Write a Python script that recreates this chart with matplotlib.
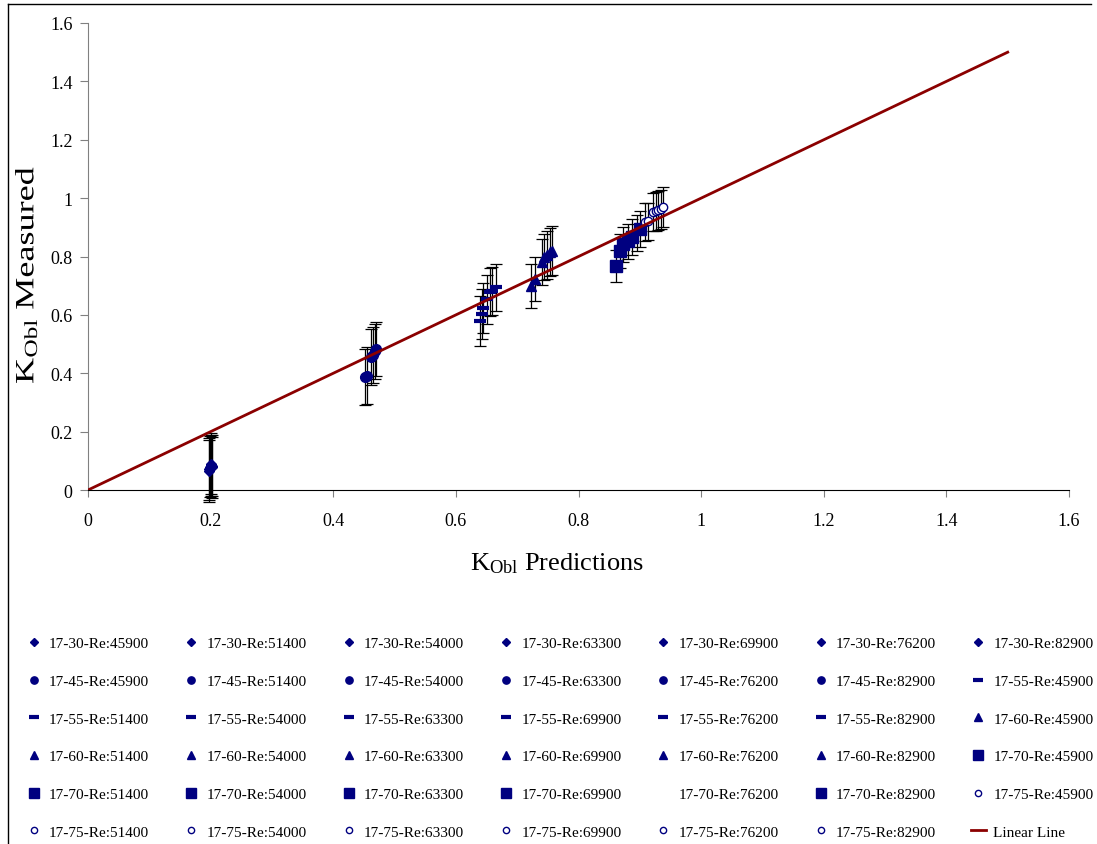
import matplotlib
matplotlib.use("Agg")
import matplotlib.pyplot as plt
from matplotlib.lines import Line2D
from matplotlib.patheffects import AbstractPathEffect
from matplotlib.transforms import Affine2D

plt.rcParams['font.family'] = ['Liberation Serif', 'DejaVu Serif']
plt.rcParams['mathtext.fontset'] = 'custom'
plt.rcParams['mathtext.rm'] = 'Liberation Serif'
plt.rcParams['mathtext.it'] = 'Liberation Serif:italic'

NAVY = '#000080'
RED = '#8B0000'

# ---- data ----
re_30 = [45900, 51400, 54000, 63300, 69900, 76200, 82900]
x_30 = [0.197, 0.198, 0.199, 0.200, 0.201, 0.202, 0.203]
y_30 = [0.065, 0.072, 0.080, 0.085, 0.090, 0.078, 0.083]
e_30 = [0.105, 0.105, 0.105, 0.105, 0.105, 0.105, 0.105]

re_45 = [45900, 51400, 54000, 63300, 76200, 82900]
x_45 = [0.452, 0.455, 0.462, 0.465, 0.468, 0.470]
y_45 = [0.387, 0.392, 0.455, 0.462, 0.475, 0.483]
e_45 = [0.097, 0.097, 0.095, 0.095, 0.094, 0.094]

re_55 = [45900, 51400, 54000, 63300, 69900, 76200, 82900]
x_55 = [0.639, 0.643, 0.644, 0.651, 0.656, 0.659, 0.666]
y_55 = [0.579, 0.603, 0.623, 0.654, 0.678, 0.682, 0.695]
e_55 = [0.087, 0.086, 0.085, 0.084, 0.083, 0.082, 0.080]

re_60 = [45900, 51400, 54000, 63300, 69900, 76200, 82900]
x_60 = [0.723, 0.729, 0.741, 0.744, 0.749, 0.754, 0.757]
y_60 = [0.699, 0.723, 0.781, 0.798, 0.805, 0.815, 0.820]
e_60 = [0.075, 0.077, 0.080, 0.080, 0.081, 0.082, 0.083]

re_70 = [45900, 51400, 54000, 63300, 69900, 76200, 82900]
x_70 = [0.861, 0.868, 0.873, 0.881, 0.887, 0.895, 0.900]
y_70 = [0.767, 0.818, 0.842, 0.853, 0.866, 0.880, 0.894]
e_70 = [0.055, 0.058, 0.060, 0.060, 0.061, 0.062, 0.063]

re_75 = [45900, 51400, 54000, 63300, 69900, 76200, 82900]
x_75 = [0.909, 0.914, 0.922, 0.927, 0.930, 0.935, 0.938]
y_75 = [0.918, 0.921, 0.952, 0.955, 0.958, 0.962, 0.969]
e_75 = [0.064, 0.064, 0.066, 0.066, 0.066, 0.067, 0.068]

line_x = [0.0, 1.5]
line_y = [0.0, 1.5]

x_ticks = [0, 0.2, 0.4, 0.6, 0.8, 1, 1.2, 1.4, 1.6]
y_ticks = [0, 0.2, 0.4, 0.6, 0.8, 1, 1.2, 1.4, 1.6]

groups = [
    ('17-30', re_30, x_30, y_30, e_30, dict(marker='D', ms=5, mfc=NAVY, mec=NAVY)),
    ('17-45', re_45, x_45, y_45, e_45, dict(marker='o', ms=7, mfc=NAVY, mec=NAVY)),
    ('17-55', re_55, x_55, y_55, e_55, dict(marker='_', ms=9, mew=3, mfc=NAVY, mec=NAVY)),
    ('17-60', re_60, x_60, y_60, e_60, dict(marker='^', ms=7, mfc=NAVY, mec=NAVY)),
    ('17-70', re_70, x_70, y_70, e_70, dict(marker='s', ms=9, mfc=NAVY, mec=NAVY)),
    ('17-75', re_75, x_75, y_75, e_75, dict(marker='o', ms=6, mfc='white', mec=NAVY, mew=1)),
]


class Stretch(AbstractPathEffect):
    """Stretch text along its own direction (the reference's y title is elongated)."""
    def __init__(self, sx):
        super().__init__()
        self.sx = sx

    def draw_path(self, renderer, gc, tpath, affine, rgbFace=None):
        renderer.draw_path(gc, tpath, Affine2D().scale(self.sx, 1.0) + affine, rgbFace)


fig = plt.figure(figsize=(10.97, 8.45), dpi=100)
ax = fig.add_axes([0.0802, 0.4189, 0.8943, 0.5527])

handles = []
labels = []
for name, res, xs, ys, es, style in groups:
    for r, xv, yv, ev in zip(res, xs, ys, es):
        st = dict(style)
        if name == '17-70' and r == 76200:
            st['marker'] = 'None'
        ax.errorbar([xv], [yv], yerr=[ev], fmt='none', ecolor='black',
                    elinewidth=0.9, capsize=4, capthick=0.9, clip_on=False, zorder=2)
        h, = ax.plot([xv], [yv], linestyle='none', zorder=3, clip_on=False, **st)
        handles.append(h)
        labels.append(f'{name}-Re:{r}')

lh, = ax.plot(line_x, line_y, color=RED, lw=2, zorder=4)
handles.append(lh)
labels.append('Linear Line')

ax.set_xlim(0, 1.6)
ax.set_ylim(0, 1.6)
ax.set_xticks(x_ticks)
ax.set_yticks(y_ticks)
ax.set_xticklabels([f'{t:g}' for t in x_ticks])
ax.set_yticklabels([f'{t:g}' for t in y_ticks])
for s in ['top', 'right']:
    ax.spines[s].set_visible(False)
ax.spines['left'].set_color('#808080')
ax.spines['bottom'].set_color('black')
ax.tick_params(axis='y', direction='out', length=6, pad=5, color='#808080', labelsize=13)
ax.tick_params(axis='x', direction='out', length=5, pad=11, color='#808080', labelsize=13)

ax.set_xlabel(r'K$_{\mathrm{Obl}}$ Predictions', fontsize=19, labelpad=15)
ax.xaxis.label.set_x(0.478)
ax.set_ylabel(r'K$_{\mathrm{Obl}}$ Measured', fontsize=19, labelpad=8)
ax.yaxis.label.set_ha('left')
ax.yaxis.label.set_y(0.227)
ax.yaxis.label.set_path_effects([Stretch(1.37)])

# legend: row-major ordering like the original
ncol, nrow = 7, 6
order = [r * ncol + c for c in range(ncol) for r in range(nrow)]
fig.legend([handles[i] for i in order], [labels[i] for i in order],
           loc='upper left', bbox_to_anchor=(0.0168, 0.2544), ncol=ncol,
           frameon=False, fontsize=11, handlelength=1.0, handletextpad=0.5,
           columnspacing=2.25, labelspacing=1.57, borderpad=0, markerscale=0.75)

# figure frame
W, H = 1097, 845
fig.add_artist(Line2D([8 / W, 8 / W], [0, 1 - 5 / H], color='black', lw=1, transform=fig.transFigure))
fig.add_artist(Line2D([8 / W, 1091 / W], [1 - 5 / H, 1 - 5 / H], color='black', lw=1, transform=fig.transFigure))

fig.savefig('out.png', dpi=100)
